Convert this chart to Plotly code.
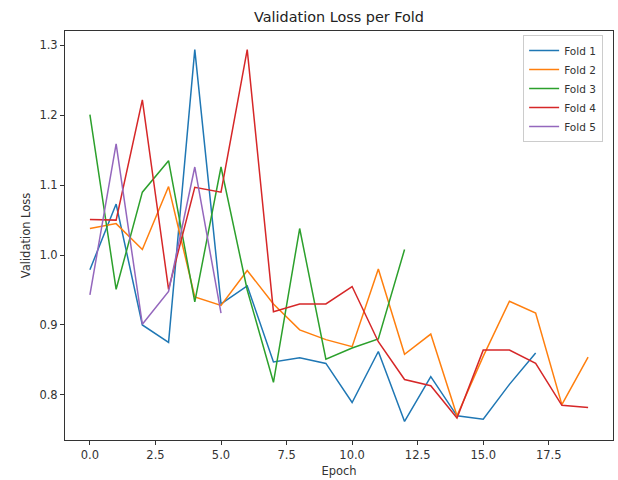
import plotly.graph_objects as go

fold_names = ["Fold 1", "Fold 2", "Fold 3", "Fold 4", "Fold 5"]
fold1 = [0.979, 1.073, 0.900, 0.875, 1.294, 0.930, 0.956, 0.847, 0.853, 0.845,
         0.789, 0.862, 0.762, 0.826, 0.770, 0.765, 0.815, 0.860]
fold2 = [1.038, 1.045, 1.008, 1.098, 0.940, 0.928, 0.978, 0.930, 0.893, 0.879,
         0.869, 0.980, 0.858, 0.887, 0.770, 0.855, 0.934, 0.917, 0.786, 0.854]
fold3 = [1.201, 0.951, 1.090, 1.135, 0.933, 1.126, 0.950, 0.818, 1.038, 0.851,
         0.867, 0.880, 1.008]
fold4 = [1.051, 1.050, 1.222, 0.951, 1.097, 1.090, 1.294, 0.919, 0.930, 0.930,
         0.955, 0.876, 0.822, 0.813, 0.767, 0.864, 0.864, 0.845, 0.785, 0.782]
fold5 = [0.943, 1.159, 0.901, 0.948, 1.126, 0.917]
colors = ["#1f77b4", "#ff7f0e", "#2ca02c", "#d62728", "#9467bd"]

x_tickvals = [0.0, 2.5, 5.0, 7.5, 10.0, 12.5, 15.0, 17.5]
x_ticktext = ["0.0", "2.5", "5.0", "7.5", "10.0", "12.5", "15.0", "17.5"]
y_tickvals = [0.8, 0.9, 1.0, 1.1, 1.2, 1.3]
y_ticktext = ["0.8", "0.9", "1.0", "1.1", "1.2", "1.3"]

series = [fold1, fold2, fold3, fold4, fold5]

fig = go.Figure()
for name, vals, c in zip(fold_names, series, colors):
    fig.add_trace(go.Scatter(x=list(range(len(vals))), y=vals, mode="lines",
                             name=name, line=dict(color=c, width=1.5)))

font_family = "DejaVu Sans"
tick_size = 11.5
axis_common = dict(showline=True, linecolor="#333333", linewidth=1, mirror=True,
                   ticks="outside", ticklen=4, tickcolor="#333333", tickwidth=1,
                   showgrid=False, zeroline=False,
                   tickfont=dict(family=font_family, size=tick_size, color="#333333"))

fig.update_layout(
    width=618, height=480,
    margin=dict(l=65, r=5, t=31, b=40),
    paper_bgcolor="white", plot_bgcolor="white",
    title=dict(text="Validation Loss per Fold", x=(65 + 613) / 2 / 618, xanchor="center",
               y=1 - 17 / 480, yanchor="middle",
               font=dict(family=font_family, size=14.4, color="#222222")),
    xaxis=dict(range=[-0.95, 19.95], tickvals=x_tickvals, ticktext=x_ticktext,
               title=dict(text="Epoch", standoff=6,
                          font=dict(family=font_family, size=tick_size, color="#333333")),
               **axis_common),
    yaxis=dict(range=[0.7354, 1.3206], tickvals=y_tickvals, ticktext=y_ticktext,
               title=dict(text="Validation Loss", standoff=6,
                          font=dict(family=font_family, size=tick_size, color="#333333")),
               **axis_common),
    legend=dict(x=0.982, xanchor="right", y=0.99, yanchor="top",
                bgcolor="rgba(255,255,255,0.8)", bordercolor="#cccccc", borderwidth=1,
                font=dict(family=font_family, size=10.5, color="#333333"),
                tracegroupgap=0, itemwidth=30),
    showlegend=True,
)

fig.write_html("out.html")
